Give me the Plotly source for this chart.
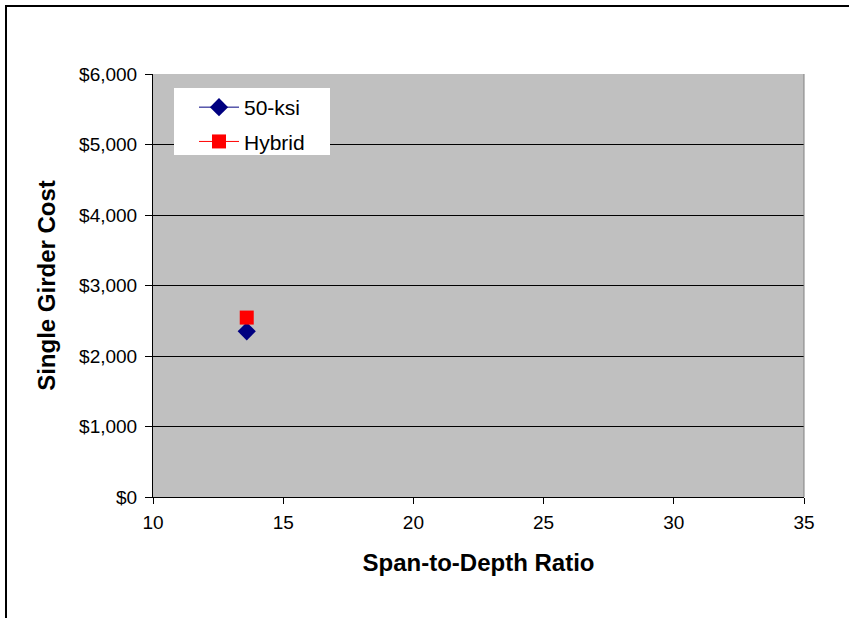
import plotly.graph_objects as go

ratio_50 = [13.6]
cost_50 = [2350]
ratio_hyb = [13.6]
cost_hyb = [2545]
series_names = ["50-ksi", "Hybrid"]
x_ticks = [10, 15, 20, 25, 30, 35]
y_ticks = [0, 1000, 2000, 3000, 4000, 5000, 6000]
y_tick_labels = ["$0", "$1,000", "$2,000", "$3,000", "$4,000", "$5,000", "$6,000"]

fig = go.Figure()
fig.add_trace(go.Scatter(x=ratio_50, y=cost_50, name=series_names[0], mode="lines+markers",
                         legendgroup="a",
                         line=dict(color="#000080", width=1),
                         marker=dict(symbol="diamond", size=14, color="#000080")))
fig.add_trace(go.Scatter(x=ratio_hyb, y=cost_hyb, name=series_names[1], mode="lines+markers",
                         legendgroup="b",
                         line=dict(color="#FF0000", width=1),
                         marker=dict(symbol="square", size=14, color="#FF0000")))

L, R, T, B = 153, 45, 74, 121
W, H = 849, 618
pw, ph = W - L - R, H - T - B

def px_x(p):
    return (p - L) / pw

def px_y(p):
    return 1 - (p - T) / ph

fig.update_layout(
    width=W, height=H,
    margin=dict(l=L, r=R, t=T, b=B, pad=0),
    paper_bgcolor="white", plot_bgcolor="#C0C0C0",
    font=dict(family="Arial, 'Liberation Sans', sans-serif", size=19, color="black"),
    showlegend=True,
    legend=dict(x=px_x(194), y=px_y(87), xanchor="left", yanchor="top",
                bgcolor="rgba(0,0,0,0)", borderwidth=0, font=dict(size=21),
                tracegroupgap=4, itemwidth=40),
    xaxis=dict(range=[10, 35], tickvals=x_ticks, showgrid=False, zeroline=False,
               showline=True, linecolor="black", linewidth=1,
               ticks="outside", ticklen=6, tickcolor="black", ticklabelstandoff=2,
               title=dict(text="<b>Span-to-Depth Ratio</b>", font=dict(size=24), standoff=22)),
    yaxis=dict(range=[0, 6000], tickvals=y_ticks, ticktext=y_tick_labels,
               showgrid=True, gridcolor="black", gridwidth=1, zeroline=False,
               showline=True, linecolor="black", linewidth=1,
               ticks="outside", ticklen=7, tickcolor="black", ticklabelstandoff=4,
               title=dict(text="<b>Single Girder Cost</b>", font=dict(size=24), standoff=16)),
    shapes=[
        dict(type="line", xref="paper", yref="paper", x0=1, x1=1, y0=0, y1=1,
             line=dict(color="#808080", width=1)),
        dict(type="rect", xref="paper", yref="paper",
             x0=(6 - L) / pw, x1=(W + 10 - L) / pw,
             y0=1 - (H + 10 - T) / ph, y1=1 + (T - 6) / ph,
             line=dict(color="black", width=2), layer="below"),
        dict(type="rect", xref="paper", yref="paper",
             x0=px_x(174), x1=px_x(330), y0=px_y(155), y1=px_y(88),
             fillcolor="white", line=dict(width=0), layer="above"),
    ],
)

fig.write_html("out.html")
